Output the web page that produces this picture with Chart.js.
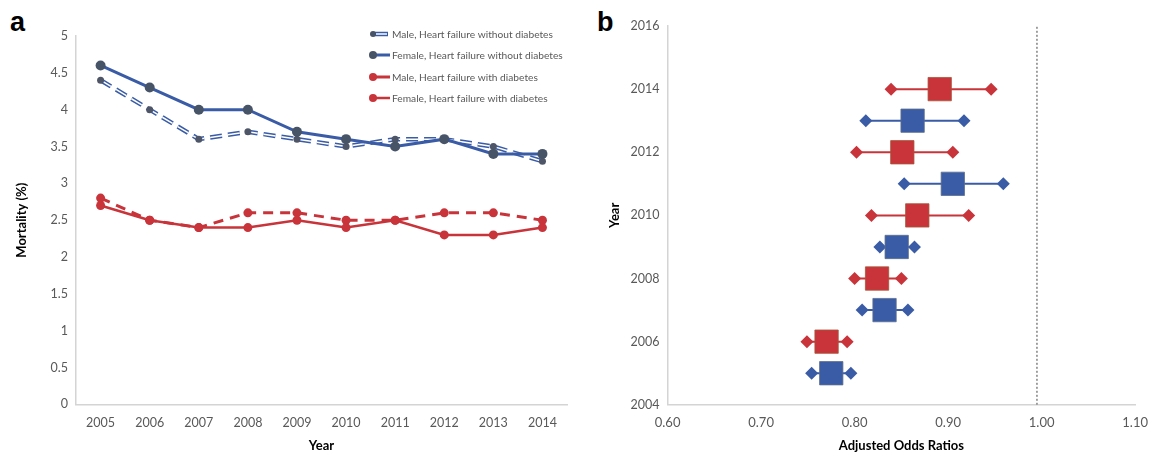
<!DOCTYPE html>
<html><head><meta charset="utf-8">
<script src="https://cdn.jsdelivr.net/npm/chart.js@4.4.0/dist/chart.umd.min.js"></script>
<style>
html,body{margin:0;padding:0;background:#fff}
body{width:1150px;height:452px;overflow:hidden;position:relative;font-family:Lato,'Open Sans',sans-serif}
#wa{position:absolute;left:0;top:0;width:585px;height:452px}
#wb{position:absolute;left:590px;top:0;width:568px;height:452px}
.pl{position:absolute;font:bold 27px 'Liberation Sans',Arial,sans-serif;color:#000;line-height:1}
</style></head><body>
<div class="pl" style="left:10px;top:9px">a</div>
<div class="pl" style="left:597px;top:9px">b</div>
<div id="wa"><canvas id="ca"></canvas></div>
<div id="wb"><canvas id="cb"></canvas></div>
<script>
// ---------- Panel a data ----------
const yearsA = ['2005','2006','2007','2008','2009','2010','2011','2012','2013','2014'];
const maleNoDiabetes   = [4.4, 4.0, 3.6, 3.7, 3.6, 3.5, 3.6, 3.6, 3.5, 3.3];
const femaleNoDiabetes = [4.6, 4.3, 4.0, 4.0, 3.7, 3.6, 3.5, 3.6, 3.4, 3.4];
const maleDiabetes     = [2.8, 2.5, 2.4, 2.6, 2.6, 2.5, 2.5, 2.6, 2.6, 2.5];
const femaleDiabetes   = [2.7, 2.5, 2.4, 2.4, 2.5, 2.4, 2.5, 2.3, 2.3, 2.4];
const seriesNamesA = ['Male, Heart failure without diabetes','Female, Heart failure without diabetes','Male, Heart failure with diabetes','Female, Heart failure with diabetes'];

// ---------- Panel b data ----------
const yearsB   = [2005, 2006, 2007, 2008, 2009, 2010, 2011, 2012, 2013, 2014];
const rowGroup = [0, 1, 0, 1, 0, 1, 0, 1, 0, 1];   // 0 = blue series, 1 = red series
const oddsRatio = [0.775, 0.770, 0.832, 0.824, 0.845, 0.867, 0.905, 0.851, 0.862, 0.891];
const ciLow     = [0.754, 0.749, 0.808, 0.800, 0.827, 0.818, 0.853, 0.802, 0.812, 0.839];
const ciHigh    = [0.796, 0.792, 0.857, 0.850, 0.864, 0.922, 0.959, 0.905, 0.917, 0.946];
const refLineX  = 0.995;
const xTicksB = [0.6, 0.7, 0.8, 0.9, 1.0, 1.1];

const BLUE = '#3a5ca6', BLUE_MK = '#475468', RED = '#c8343a';
const TICK = '#595959', AXIS = '#d4d4d4';
const FONT = "Lato, 'Open Sans', sans-serif";

// ---------- Chart a ----------
const legendSpec = [
  {type:'double', color:BLUE, dot:BLUE_MK, r:3},
  {type:'solid', color:BLUE, dot:BLUE_MK, r:4, w:3},
  {type:'solid', color:RED, dot:RED, r:4, w:3},
  {type:'solid', color:RED, dot:RED, r:4, w:2.5}
];
const cornerLegend = {
  id:'cornerLegend',
  afterDraw(chart){
    const ctx = chart.ctx;
    const ys = [34, 55, 77, 98];
    ctx.save();
    ctx.font = '10.2px ' + FONT;
    ctx.textBaseline = 'middle';
    legendSpec.forEach((s, i) => {
      const y = ys[i];
      if (s.type === 'double') {
        ctx.strokeStyle = s.color; ctx.lineWidth = 4.5;
        ctx.beginPath(); ctx.moveTo(373, y); ctx.lineTo(388, y); ctx.stroke();
        ctx.strokeStyle = '#fff'; ctx.lineWidth = 1.5;
        ctx.beginPath(); ctx.moveTo(376, y); ctx.lineTo(387, y); ctx.stroke();
      } else {
        ctx.strokeStyle = s.color; ctx.lineWidth = s.w;
        ctx.beginPath(); ctx.moveTo(373, y); ctx.lineTo(390, y); ctx.stroke();
      }
      ctx.fillStyle = s.dot;
      ctx.beginPath(); ctx.arc(373, y, s.r, 0, Math.PI*2); ctx.fill();
      ctx.fillStyle = TICK;
      ctx.fillText(seriesNamesA[i], 392, y + 0.5);
    });
    ctx.restore();
  }
};

new Chart(document.getElementById('ca'), {
  type:'line',
  data:{labels:yearsA, datasets:[
    {label:seriesNamesA[1], data:femaleNoDiabetes, borderColor:BLUE, borderWidth:3, pointRadius:5, pointBackgroundColor:BLUE_MK, pointBorderWidth:0, order:0},
    {label:'m-pts', data:maleNoDiabetes, showLine:false, pointRadius:3.5, pointBackgroundColor:'#4d5567', pointBorderWidth:0, order:1},
    {label:'m-inner', data:maleNoDiabetes, borderColor:'#ffffff', borderWidth:1.5, borderDash:[12,6], pointRadius:0, order:2},
    {label:seriesNamesA[0], data:maleNoDiabetes, borderColor:BLUE, borderWidth:4.5, borderDash:[12,6], pointRadius:0, order:3},
    {label:seriesNamesA[3], data:femaleDiabetes, borderColor:RED, borderWidth:2.5, pointRadius:4.5, pointBackgroundColor:RED, pointBorderWidth:0, order:4},
    {label:seriesNamesA[2], data:maleDiabetes, borderColor:RED, borderWidth:3, borderDash:[10,7], pointRadius:4.5, pointBackgroundColor:RED, pointBorderWidth:0, order:5}
  ]},
  options:{
    responsive:true, maintainAspectRatio:false, animation:false,
    layout:{padding:{left:10, right:18, top:36, bottom:-2}},
    plugins:{legend:{display:false}, tooltip:{enabled:false}},
    elements:{line:{tension:0, fill:false}},
    scales:{
      x:{offset:true, grid:{display:false, drawTicks:false}, border:{color:AXIS, width:1.5},
         ticks:{color:TICK, font:{family:FONT, size:12.5}, padding:11.5},
         title:{display:true, text:'Year', color:'#000', font:{family:FONT, size:13, weight:'bold'}, padding:{top:-4, bottom:0}}},
      y:{min:0, max:5, grid:{display:false, drawTicks:false}, border:{color:AXIS, width:1.5},
         ticks:{stepSize:0.5, color:TICK, font:{family:FONT, size:12.5}, padding:8, callback:v => String(Math.round(v*10)/10)},
         title:{display:true, text:'Mortality (%)', color:'#000', font:{family:FONT, size:13, weight:'bold'}, padding:{top:4, bottom:13}}}
    }
  },
  plugins:[cornerLegend]
});

// ---------- Chart b ----------
const dsB = [];
[0,1].forEach(g => {
  const col = g === 0 ? BLUE : RED;
  const pts = [];
  yearsB.forEach((y, i) => { if (rowGroup[i] === g) pts.push({x:oddsRatio[i], y:y}); });
  dsB.push({label:'or'+g, data:pts, showLine:false, pointStyle:'rect', pointRadius:16.5,
    pointBackgroundColor:col, pointBorderColor: g === 0 ? '#5d6f8c' : '#a6553a', pointBorderWidth:0.8, order:0});
});
yearsB.forEach((y, i) => {
  const col = rowGroup[i] === 0 ? BLUE : RED;
  dsB.push({label:'ci'+y, data:[{x:ciLow[i], y:y}, {x:ciHigh[i], y:y}], showLine:true,
    borderColor:col, borderWidth:2, pointStyle:'rectRot', pointRadius:6.5,
    pointBackgroundColor:col, pointBorderWidth:0, order:1});
});
dsB.push({label:'ref', data:[{x:refLineX, y:2004}, {x:refLineX, y:2016}], showLine:true,
  borderColor:'#444', borderWidth:1, borderDash:[2,2], pointRadius:0, order:2});

new Chart(document.getElementById('cb'), {
  type:'scatter',
  data:{datasets:dsB},
  options:{
    responsive:true, maintainAspectRatio:false, animation:false,
    layout:{padding:{left:13, right:2, top:26, bottom:-2}},
    plugins:{legend:{display:false}, tooltip:{enabled:false}},
    scales:{
      x:{type:'linear', min:0.6, max:1.1, grid:{display:false, drawTicks:false}, border:{color:AXIS, width:1.5},
         afterBuildTicks:ax => { ax.ticks = xTicksB.map(v => ({value:v})); },
         ticks:{color:TICK, font:{family:FONT, size:13}, padding:10, callback:v => Number(v).toFixed(2)},
         title:{display:true, text:'Adjusted Odds Ratios', color:'#000', font:{family:FONT, size:13, weight:'bold'}, padding:{top:-2, bottom:0}}},
      y:{type:'linear', min:2004, max:2016, grid:{display:false, drawTicks:false}, border:{color:AXIS, width:1.5},
         ticks:{stepSize:2, color:TICK, font:{family:FONT, size:12.5}, padding:8, callback:v => String(v)},
         title:{display:true, text:'Year', color:'#000', font:{family:FONT, size:13, weight:'bold'}, padding:{top:4, bottom:0}}}
    }
  }
});
</script>
</body></html>
